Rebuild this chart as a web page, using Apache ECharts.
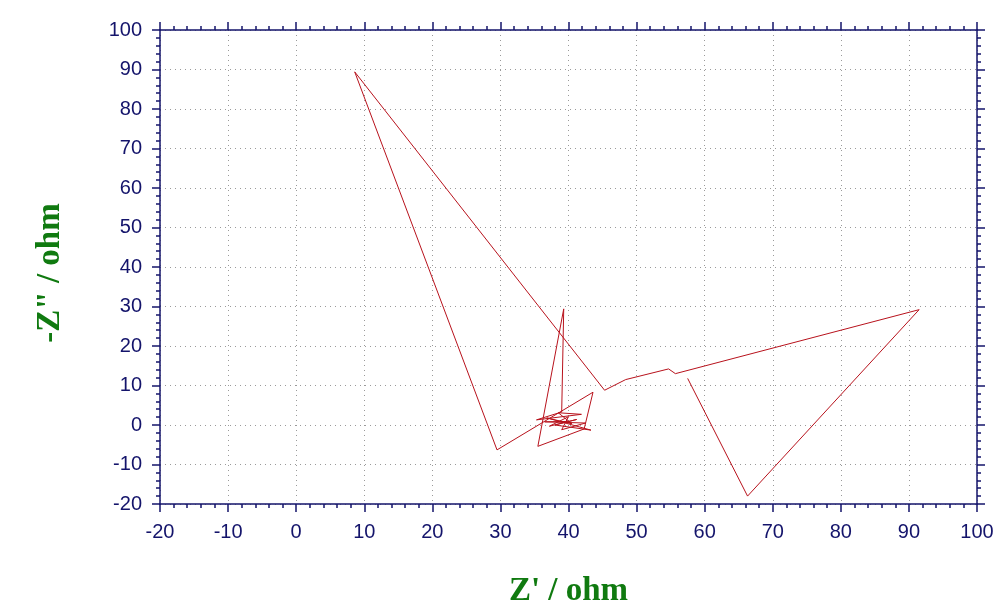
<!DOCTYPE html>
<html>
<head>
<meta charset="utf-8">
<script src="https://cdn.jsdelivr.net/npm/echarts@6/dist/echarts.min.js"></script>
<style>
  html, body { margin: 0; padding: 0; background: #fff; }
  #chart-container { width: 1003px; height: 607px; }
</style>
</head>
<body>
<div id="chart-container"></div>
<script>
// Nyquist trace (ohm)
const zReal = [57.5, 66.3, 91.5, 55.7, 54.7, 48.4, 45.3, 8.6, 29.5, 43.6,
               42.3, 35.5, 39.3, 39.0, 35.3, 41.9, 38.5, 40.5, 36.8, 43.3,
               38.0, 41.2, 37.2, 40.0, 39.0, 42.5, 36.5, 39.8];
const zImag = [11.8, -18.0, 29.2, 13.0, 14.2, 11.5, 8.8, 89.4, -6.3, 8.3,
               -1.0, -5.4, 29.4, 3.3, 1.3, 2.7, 3.1, 0.3, 1.8, -1.3,
               0.0, 1.4, -0.3, 2.1, -1.2, 0.5, 0.8, 0.9];
const xName = "Z' / ohm";
const yName = '-Z" / ohm';

const axisColor = '#14146b';
const nameStyle = {
    fontFamily: '"Liberation Serif", "Times New Roman", serif',
    fontWeight: 'bold',
    fontSize: 33,
    color: '#107a10'
};
const labelStyle = {
    show: true,
    margin: 18,
    fontFamily: '"Liberation Sans", Arial, sans-serif',
    fontSize: 20,
    color: axisColor
};
const gridLine = { show: true, lineStyle: { color: '#9a9a9a', type: [1, 4], width: 1 } };

const points = zReal.map((x, i) => [x, zImag[i]]);

const chartDom = document.getElementById('chart-container');
const myChart = echarts.init(chartDom, null, { renderer: 'canvas' });

function frameAxis(extra) {
    return Object.assign({
        type: 'value',
        min: -20,
        max: 100,
        interval: 10,
        axisLine: { show: true, onZero: false, lineStyle: { color: axisColor, width: 1.5 } },
        axisTick: { show: true, inside: false, length: 8, lineStyle: { color: axisColor, width: 1.5 } },
        minorTick: { show: true, splitNumber: 5, length: 4, lineStyle: { color: axisColor, width: 1.5 } },
        splitLine: { show: false },
        axisLabel: { show: false }
    }, extra);
}

const option = {
    animation: false,
    backgroundColor: '#fff',
    grid: { left: 160, right: 26, top: 30, bottom: 103, containLabel: false, outerBoundsMode: 'none' },
    xAxis: [
        frameAxis({
            position: 'bottom',
            name: xName,
            nameLocation: 'middle',
            nameGap: 71,
            nameTextStyle: nameStyle,
            axisLabel: labelStyle,
            splitLine: gridLine
        }),
        frameAxis({ position: 'top' })
    ],
    yAxis: [
        frameAxis({
            position: 'left',
            name: yName,
            nameLocation: 'middle',
            nameGap: 93,
            nameTextStyle: Object.assign({ padding: [0, 12, 0, 0] }, nameStyle),
            axisLabel: labelStyle,
            splitLine: gridLine
        }),
        frameAxis({ position: 'right' })
    ],
    series: [
        {
            type: 'line',
            data: points,
            showSymbol: false,
            symbol: 'none',
            lineStyle: { color: '#b8121c', width: 1 },
            xAxisIndex: 0,
            yAxisIndex: 0
        }
    ]
};
myChart.setOption(option);
</script>
</body>
</html>
